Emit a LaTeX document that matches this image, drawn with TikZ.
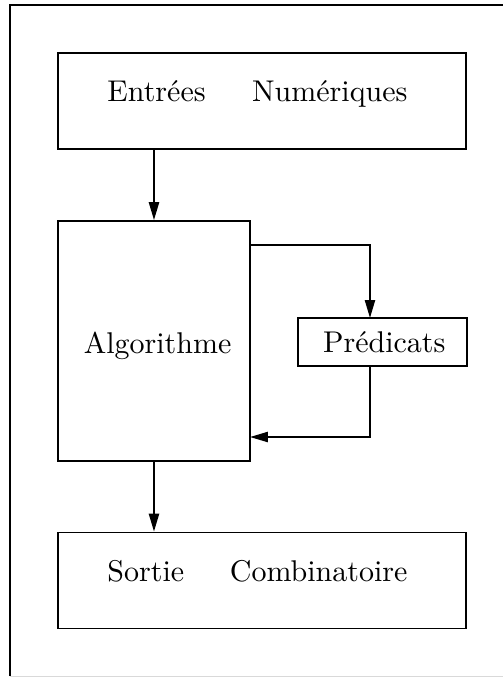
\documentclass[tikz,border=0pt]{standalone}
\usepackage{fontspec}
\usetikzlibrary{arrows.meta,positioning}

\begin{document}
\begin{tikzpicture}[x=1pt, y=1pt, line width=0.6pt, >={Triangle[length=6pt,width=3.4pt]},
  box/.style={draw, inner sep=0pt, minimum height=32pt}]
\useasboundingbox (0,0) rectangle (167.67,-225.67);
% outer frame (cut at the right and at the bottom)
\draw (3.33,-225.4) -- (3.33,-1.67) -- (175,-1.67);
\draw[black!15, line width=0.4pt] (3.33,-225.4) -- (175,-225.4);
% blocks
\node[box, minimum width=136pt] (entrees) at (87.33,-33.67) {};
\node[box, minimum width=64pt, minimum height=80pt] (algo) at (51.33,-113.67) {};
\node[box, minimum width=56.33pt, minimum height=16pt] (pred) at (127.5,-114) {};
\node[box, minimum width=136pt] (sortie) at (87.33,-193.5) {};
% texts
\node[inner sep=0pt] (entreestxt) at ([shift={(-1.5,2.5)}]entrees.center)
  {\makebox[100pt]{Entrées\hfill Numériques}};
\node[inner sep=0pt] (algotxt) at ([shift={(1.2,-1.5)}]algo.center) {Algorithme};
\node[inner sep=0pt] (predtxt) at ([shift={(0.6,0)}]pred.center) {Prédicats};
\node[inner sep=0pt] (sortietxt) at ([shift={(-1.5,3)}]sortie.center)
  {\makebox[100pt]{Sortie\hfill Combinatoire}};
% loop points
\coordinate (predin) at (123.33,-106);
\coordinate (predout) at (123.33,-122);
\coordinate (algoout) at (83.33,-81.67);
\coordinate (algoin) at (83.33,-145.67);
% arrows
\draw[->] (entrees.south -| algo.north) -- (algo.north);
\draw[->] (algoout) -| (predin);
\draw[->] (predout) |- (algoin);
\draw[->] (algo.south) -- (sortie.north -| algo.south);
\end{tikzpicture}
\end{document}
